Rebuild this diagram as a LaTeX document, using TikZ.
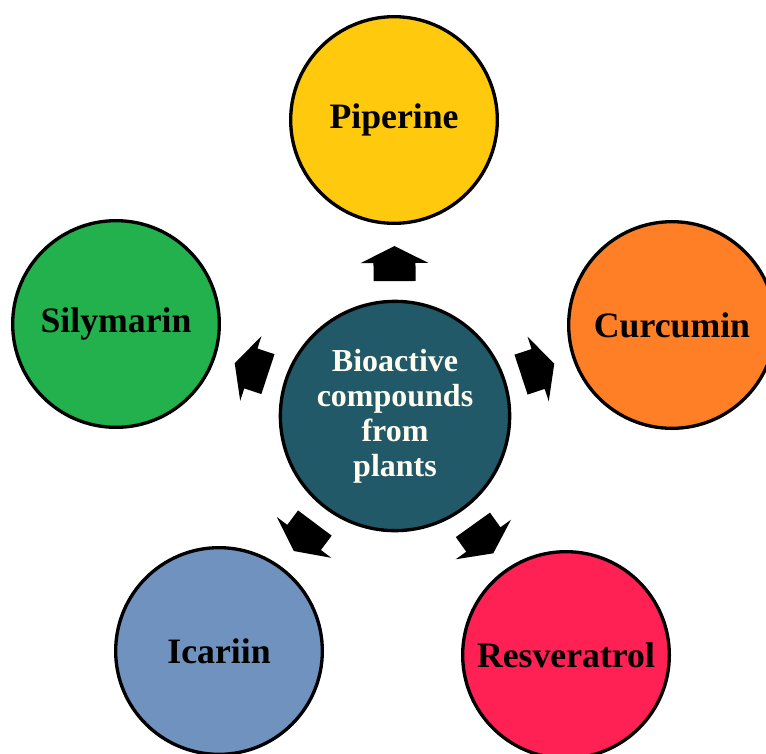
\documentclass[tikz,border=0pt]{standalone}
\usepackage{fontspec}
\setmainfont{Liberation Serif}
\usetikzlibrary{calc}
\definecolor{cPip}{RGB}{255,201,14}
\definecolor{cCur}{RGB}{255,127,39}
\definecolor{cSil}{RGB}{34,177,76}
\definecolor{cIca}{RGB}{112,146,190}
\definecolor{cRes}{RGB}{255,32,84}
\definecolor{cHub}{RGB}{33,89,104}
\definecolor{cHubText}{RGB}{255,252,240}
\begin{document}
\begin{tikzpicture}[x=0.75pt,y=-0.75pt,
  bubble/.style={circle, draw=black, line width=2.5pt, inner sep=0pt,
    minimum size=155pt, text=black,
    font=\fontsize{26.8}{30}\selectfont\bfseries},
  hub/.style={circle, draw=black, line width=2.5pt, fill=cHub, text=cHubText,
    align=center, inner sep=0pt, minimum size=172pt,
    font=\fontsize{24}{26.25}\selectfont\bfseries},
  fatarrow/.pic={\fill[black] (17.5,0) -- (0.5,34) -- (0.5,21) -- (-17.5,21)
    -- (-17.5,-21) -- (0.5,-21) -- (0.5,-34) -- cycle;}
]
\useasboundingbox (0,0) rectangle (766,753);
\clip (0,0) rectangle (766,753);
\fill[white] (0,0) rectangle (766,753);
\node[hub] (hub) at (395,416) {Bioactive\\compounds\\from\\plants};
\node[bubble, fill=cPip] (pip) at (394,120) {Piperine};
\node[bubble, fill=cCur] (cur) at (672,325) {Curcumin};
\node[bubble, fill=cSil] (sil) at (116,324) {Silymarin};
\node[bubble, fill=cIca] (ica) at (219,651) {Icariin};
\node[bubble, fill=cRes] (res) at (566,655) {Resveratrol};
\foreach \k in {pip,cur,sil,ica,res}{
  \path let \p1=($(\k)-(hub)$), \n1={atan2(\y1,\x1)} in
    pic[rotate=\n1] at ($(hub)!0.515!(\k)$) {fatarrow};
}
\end{tikzpicture}
\end{document}
